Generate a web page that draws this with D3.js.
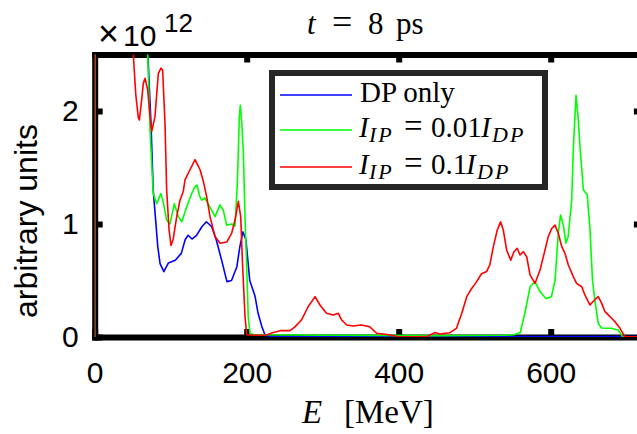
<!DOCTYPE html>
<html>
<head>
<meta charset="utf-8">
<script src="https://cdn.jsdelivr.net/npm/d3@7"></script>
<style>
	body { margin: 0; background: #fff; }
	svg { display: block; }
	.tick text { font-family: "Liberation Sans", Arial, sans-serif; }
</style>
</head>
<body>
<svg id="chart" width="637" height="434"></svg>
<script>
(function() {
	'use strict';

	// energy [MeV] / spectrum [x1e12]
	var dpOnly = [
		[0, 0], [1, 6], [60, 4], [68, 2.8], [70, 2.5], [74, 1.9], [77, 1.3], [80, 1.05], [83, 0.8], [86, 0.65],
		[91, 0.578], [97, 0.655], [106, 0.68], [114, 0.74], [119, 0.86], [123, 0.9], [128, 0.867], [134, 0.9],
		[141, 0.976], [147, 1.02], [154, 0.976], [160, 0.858], [167, 0.68], [174, 0.49], [180, 0.5], [187, 0.62],
		[191, 0.8], [195, 0.93], [199, 0.86], [204, 0.5], [211, 0.36], [215, 0.21], [220, 0.09], [224, 0.02],
		[230, 0.005], [720, 0.003]
	];
	var lowIP = [
		[0, 0], [1, 6], [60, 4], [68, 2.8], [69.7, 2.5], [73, 1.8], [77, 1.27], [81.6, 1.18], [87, 1.27], [90, 1.2],
		[94.7, 1.035], [99, 1.0], [104.8, 1.18], [110, 1.065], [114.5, 1.02], [121, 1.15], [127.6, 1.27], [132, 1.33],
		[134.5, 1.345], [138, 1.25], [140.8, 1.21], [145, 1.23], [151.7, 1.15], [158.3, 1.065], [164.9, 1.17],
		[169.2, 1.12], [173.7, 0.99], [180.3, 1.0], [184.6, 0.98], [187.7, 1.36], [190.3, 1.95], [191.6, 2.05],
		[193.5, 1.9], [195.5, 1.65], [197.8, 1.06], [200, 0.62], [202, 0.18], [204.3, 0.03], [210, 0.02],
		[300, 0.015], [450, 0.012], [540, 0.015], [552, 0.02], [560, 0.04], [566, 0.21], [573, 0.445], [579.4, 0.49],
		[586, 0.4], [593.8, 0.34], [601, 0.357], [605.7, 0.5], [610, 0.918], [613, 1.08], [616.6, 0.99], [620, 0.83],
		[623, 0.89], [627.6, 1.21], [630, 1.7], [633.3, 2.14], [636, 1.95], [638.6, 1.68], [643, 1.3], [648, 1.26],
		[651.7, 0.95], [655, 0.5], [658, 0.33], [662.6, 0.12], [667, 0.08], [671.4, 0.077], [680, 0.077],
		[689, 0.06], [692, 0.03], [694.7, 0], [720, 0]
	];
	var highIP = [
		[0, 0], [0.8, 6], [45, 4], [50.8, 2.5], [54, 2.15], [57.4, 1.94], [58.7, 1.92], [61, 2.05], [64, 2.245],
		[66.2, 2.29], [69.7, 2.19], [72.8, 1.95], [75, 1.82], [79.3, 1.95], [83.7, 2.33], [87.2, 2.38], [89.4, 2.36],
		[92.5, 1.89], [94.7, 1.3], [97.8, 0.95], [100.4, 0.81], [103.4, 0.87], [107.9, 1.065], [112.2, 1.21],
		[116.6, 1.29], [118.8, 1.39], [125.4, 1.48], [132, 1.57], [138.6, 1.48], [142.9, 1.38], [147.4, 1.24],
		[151.7, 1.065], [158.3, 0.89], [164.9, 0.83], [173.7, 0.84], [180.3, 0.92], [184.6, 1.035], [189, 1.2],
		[192.1, 1.065], [194.7, 0.62], [197.8, 0.18], [200, 0.02], [215, 0.015], [226, 0.018], [235, 0.04],
		[243.8, 0.056], [257, 0.056], [263.5, 0.09], [272, 0.15], [281, 0.27], [290, 0.357], [296.4, 0.283],
		[305, 0.21], [314, 0.195], [320.5, 0.21], [325, 0.15], [331.6, 0.106], [340, 0.097], [351, 0.106],
		[362, 0.09], [371, 0.033], [379.7, 0.027], [388.5, 0.018], [401.7, 0], [436.8, 0.003], [447.8, 0.04],
		[454, 0.027], [467.5, 0.038], [476, 0.077], [483, 0.21], [489.5, 0.357], [496, 0.43], [502.6, 0.49],
		[509, 0.56], [515.8, 0.58], [520, 0.64], [524.5, 0.8], [529.7, 0.947], [534, 1.02], [537.6, 0.947],
		[542, 0.77], [547.4, 0.68], [551.7, 0.755], [556, 0.785], [559.6, 0.726], [564, 0.755], [568.4, 0.71],
		[572.8, 0.55], [579.4, 0.475], [586, 0.593], [592.5, 0.77], [596.8, 0.888], [601.3, 0.96], [605.7, 0.99],
		[610, 0.918], [614.5, 0.8], [618.8, 0.74], [623.2, 0.637], [629.7, 0.534], [634, 0.475], [640.8, 0.445],
		[645, 0.372], [651.7, 0.283], [658, 0.33], [662.6, 0.357], [667, 0.3], [671.4, 0.224], [678, 0.18],
		[684.6, 0.135], [691.2, 0.077], [697.4, 0.003], [720, 0]
	];

	var xTicks = [0, 200, 400, 600];
	var yTicks = [0, 1, 2];
	var seriesColors = ['#0000ff', '#00ff00', '#ff0000'];

	var series = [
		{ key: 'dp', values: dpOnly, color: seriesColors[0] },
		{ key: 'low', values: lowIP, color: seriesColors[1] },
		{ key: 'high', values: highIP, color: seriesColors[2] }
	];

	var svg = d3.select('#chart');
	var left = 94.7, top = 54.5, bottom = 337;

	var x = d3.scaleLinear().domain([0, 720]).range([left, left + 720 * 0.76]);
	var y = d3.scaleLinear().domain([0, 2.5]).range([bottom, top]);

	svg.append('defs').append('clipPath')
		.attr('id', 'plot-clip')
		.append('rect')
		.attr('x', x.range()[0])
		.attr('y', top)
		.attr('width', x.range()[1] - x.range()[0])
		.attr('height', bottom - top);

	// box axes, drawn below the curves
	var styleAxis = function(g) {
		g.select('.domain').attr('stroke', '#000').attr('stroke-width', 6).attr('stroke-linecap', 'square');
		g.selectAll('.tick line').attr('stroke', '#000').attr('stroke-width', 6);
		g.selectAll('.tick text').attr('fill', '#000').attr('font-size', 30);
	};

	svg.append('g')
		.attr('transform', 'translate(0,' + bottom + ')')
		.call(d3.axisBottom(x).tickValues(xTicks).tickSizeInner(-8).tickSizeOuter(0).tickPadding(25).tickFormat(d3.format('d')))
		.call(styleAxis);

	svg.append('g')
		.attr('transform', 'translate(0,' + top + ')')
		.call(d3.axisTop(x).tickValues(xTicks.slice(1)).tickSizeInner(-8).tickSizeOuter(0).tickFormat(''))
		.call(styleAxis);

	svg.append('g')
		.attr('transform', 'translate(' + left + ',0)')
		.call(d3.axisLeft(y).tickValues(yTicks).tickSizeInner(-8).tickSizeOuter(0).tickPadding(16).tickFormat(d3.format('d')))
		.call(styleAxis);

	svg.append('g')
		.attr('transform', 'translate(' + x.range()[1] + ',0)')
		.call(d3.axisRight(y).tickValues(yTicks.slice(1)).tickSizeInner(-8).tickSizeOuter(0).tickFormat(''))
		.call(styleAxis);

	var line = d3.line()
		.x(function(d) { return x(d[0]); })
		.y(function(d) { return y(d[1]); });

	svg.append('g')
		.attr('clip-path', 'url(#plot-clip)')
		.selectAll('path')
		.data(series)
		.enter().append('path')
		.attr('fill', 'none')
		.attr('stroke', function(d) { return d.color; })
		.attr('stroke-width', 1.6)
		.attr('stroke-linejoin', 'round')
		.attr('d', function(d) { return line(d.values); });

	// exponent
	var expo = svg.append('text')
		.attr('font-family', '"Liberation Sans", Arial, sans-serif')
		.attr('fill', '#000');
	expo.append('tspan').attr('x', 98).attr('y', 46).attr('font-size', 36).text('\u00d7');
	expo.append('tspan').attr('x', 123).attr('y', 46).attr('font-size', 30).text('10');
	expo.append('tspan').attr('x', 164).attr('y', 32).attr('font-size', 26).text('12');

	// title
	var serif = '"Liberation Serif", "DejaVu Serif", serif';
	var title = svg.append('text')
		.attr('font-family', serif)
		.attr('font-size', 31)
		.attr('y', 34)
		.attr('fill', '#000');
	title.append('tspan').attr('x', 307).attr('font-style', 'italic').text('t');
	title.append('tspan').attr('x', 332).attr('font-size', 36).text('=');
	title.append('tspan').attr('x', 368).text('8');
	title.append('tspan').attr('x', 396).text('ps');

	// axis labels
	var xl = svg.append('text')
		.attr('font-family', serif)
		.attr('font-size', 33)
		.attr('y', 423)
		.attr('fill', '#000');
	xl.append('tspan').attr('x', 302).attr('font-style', 'italic').text('E');
	xl.append('tspan').attr('x', 344).text('[MeV]');

	svg.append('text')
		.attr('transform', 'translate(37,221) rotate(-90)')
		.attr('text-anchor', 'middle')
		.attr('font-family', '"Liberation Sans", Arial, sans-serif')
		.attr('font-size', 32)
		.attr('fill', '#000')
		.text('arbitrary units');

	// legend
	var legend = svg.append('g');
	legend.append('rect')
		.attr('x', 272).attr('y', 73)
		.attr('width', 273).attr('height', 114)
		.attr('fill', '#fff')
		.attr('stroke', '#262626')
		.attr('stroke-width', 6);

	var rows = [95, 130, 167];
	legend.selectAll('line')
		.data(series)
		.enter().append('line')
		.attr('x1', 280).attr('x2', 352)
		.attr('y1', function(d, i) { return rows[i]; })
		.attr('y2', function(d, i) { return rows[i]; })
		.attr('stroke', function(d) { return d.color; })
		.attr('stroke-width', 1.6);

	var legendLabels = [
		[{ t: 'DP only', x: 360 }],
		[{ t: 'I', x: 359, it: true }, { t: 'IP', x: 369, it: true, sub: true }, { t: '=', x: 404, eq: true }, { t: '0.01', x: 431 },
			{ t: 'I', x: 481, it: true }, { t: 'DP', x: 492, it: true, sub: true }],
		[{ t: 'I', x: 359, it: true }, { t: 'IP', x: 369, it: true, sub: true }, { t: '=', x: 404, eq: true }, { t: '0.1', x: 431 },
			{ t: 'I', x: 466, it: true }, { t: 'DP', x: 477, it: true, sub: true }]
	];
	legendLabels.forEach(function(pieces, i) {
		var t = legend.append('text')
			.attr('font-family', serif)
			.attr('fill', '#000');
		pieces.forEach(function(p) {
			t.append('tspan')
				.attr('x', p.x)
				.attr('y', rows[i] + (p.sub ? 12 : 7))
				.attr('font-size', p.sub ? 22 : (p.eq ? 33 : 29))
				.attr('font-style', p.it ? 'italic' : 'normal')
				.attr('letter-spacing', p.sub ? 2 : 0)
				.text(p.t);
		});
	});
})();
</script>
</body>
</html>
